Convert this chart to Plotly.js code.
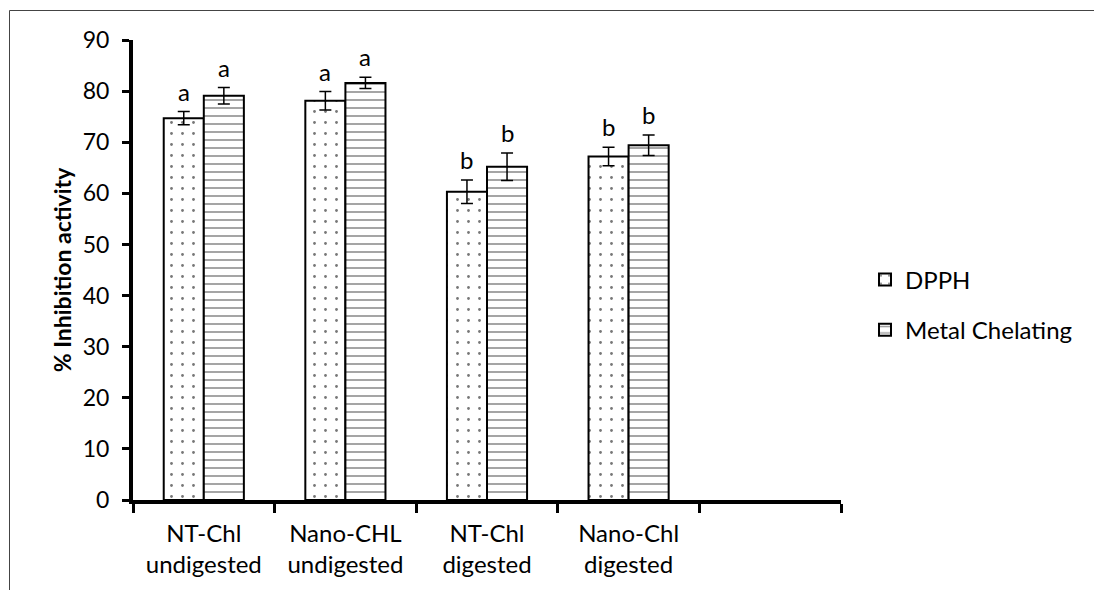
<!DOCTYPE html>
<html><head><meta charset="utf-8">
<script src="https://cdn.plot.ly/plotly-3.0.1.min.js"></script>
<style>html,body{margin:0;padding:0;background:#fff}</style>
</head><body><div id="chart" style="width:1094px;height:590px"></div>
<script>
const categories = ["NT-Chl<br>undigested", "Nano-CHL<br>undigested", "NT-Chl<br>digested", "Nano-Chl<br>digested"];
const dpph = [74.7, 78.1, 60.3, 67.2];
const dpphErr = [1.3, 1.8, 2.3, 1.8];
const dpphLetters = ["a", "a", "b", "b"];
const metal = [79.1, 81.6, 65.2, 69.4];
const metalErr = [1.6, 1.1, 2.7, 2.0];
const metalLetters = ["a", "a", "b", "b"];
const seriesNames = ["DPPH", "Metal Chelating"];
const yTickVals = [0, 10, 20, 30, 40, 50, 60, 70, 80, 90];

const idx = categories.map((_, i) => i);
const BW = 0.283;
const M = {l: 133, r: 253, t: 40, b: 90};
const W = 1094, H = 590;
const pw = W - M.l - M.r, ph = H - M.t - M.b;
const px = v => (v - M.l) / pw;
const py = v => (H - M.b - v) / ph;

const errStyle = {type: 'data', color: '#000', thickness: 1.5, width: 6, visible: true};

const traces = [
  {
    type: 'bar', name: seriesNames[0], x: idx, y: dpph, width: BW, offset: -BW,
    legendgroup: 'g1',
    marker: {color: '#fff', line: {color: '#000', width: 2},
      pattern: {shape: '.', fgcolor: '#777', bgcolor: '#fff', size: 11, solidity: 0.05}},
    error_y: Object.assign({array: dpphErr}, errStyle)
  },
  {
    type: 'bar', name: seriesNames[1], x: idx, y: metal, width: BW, offset: 0,
    legendgroup: 'g2',
    marker: {color: '#fff', line: {color: '#000', width: 2},
      pattern: {shape: '-', fgcolor: '#999', bgcolor: '#fff', size: 8, solidity: 0.22}},
    error_y: Object.assign({array: metalErr}, errStyle)
  }
];

const annotations = [];
idx.forEach(i => {
  annotations.push({x: i - BW / 2, y: dpph[i] + dpphErr[i], text: dpphLetters[i], showarrow: false,
    yanchor: 'bottom', yshift: 4, font: {size: 24, color: '#000'}});
  annotations.push({x: i + BW / 2, y: metal[i] + metalErr[i], text: metalLetters[i], showarrow: false,
    yanchor: 'bottom', yshift: 4, font: {size: 24, color: '#000'}});
});

const layout = {
  width: W, height: H,
  margin: M,
  paper_bgcolor: '#fff', plot_bgcolor: '#fff',
  font: {family: 'Lato, sans-serif', color: '#000', size: 22},
  showlegend: true,
  legend: {x: px(865), y: py(305), xanchor: 'left', yanchor: 'middle', font: {size: 24},
    tracegroupgap: 16, bgcolor: 'rgba(0,0,0,0)'},
  xaxis: {
    range: [-0.5, 4.5], tickmode: 'array', tickvals: idx, ticktext: categories,
    ticks: '', showline: true, linewidth: 4, linecolor: '#000', showgrid: false, zeroline: false,
    tickfont: {size: 24}, ticklabelstandoff: 9,
    minor: {tickmode: 'linear', tick0: -0.5, dtick: 1, ticks: 'outside', ticklen: 9, tickwidth: 3, tickcolor: '#000', showgrid: false}
  },
  yaxis: {
    range: [0, 90], tickmode: 'array', tickvals: yTickVals,
    ticks: 'outside', ticklen: 7, tickwidth: 3, tickcolor: '#000',
    showline: true, linewidth: 4, linecolor: '#000', showgrid: false, zeroline: false,
    tickfont: {size: 23}, ticklabelstandoff: 8,
    title: {text: '% Inhibition activity', font: {size: 23, weight: 'bold'}, standoff: 6}
  },
  annotations: annotations,
  shapes: [
    {type: 'line', xref: 'paper', yref: 'paper', x0: px(9.5), x1: px(1094), y0: py(10.5), y1: py(10.5), line: {color: '#444', width: 1}},
    {type: 'line', xref: 'paper', yref: 'paper', x0: px(9.5), x1: px(9.5), y0: py(10.5), y1: py(590), line: {color: '#444', width: 1}}
  ]
};

Plotly.newPlot('chart', traces, layout, {displayModeBar: false, staticPlot: true});
</script></body></html>
